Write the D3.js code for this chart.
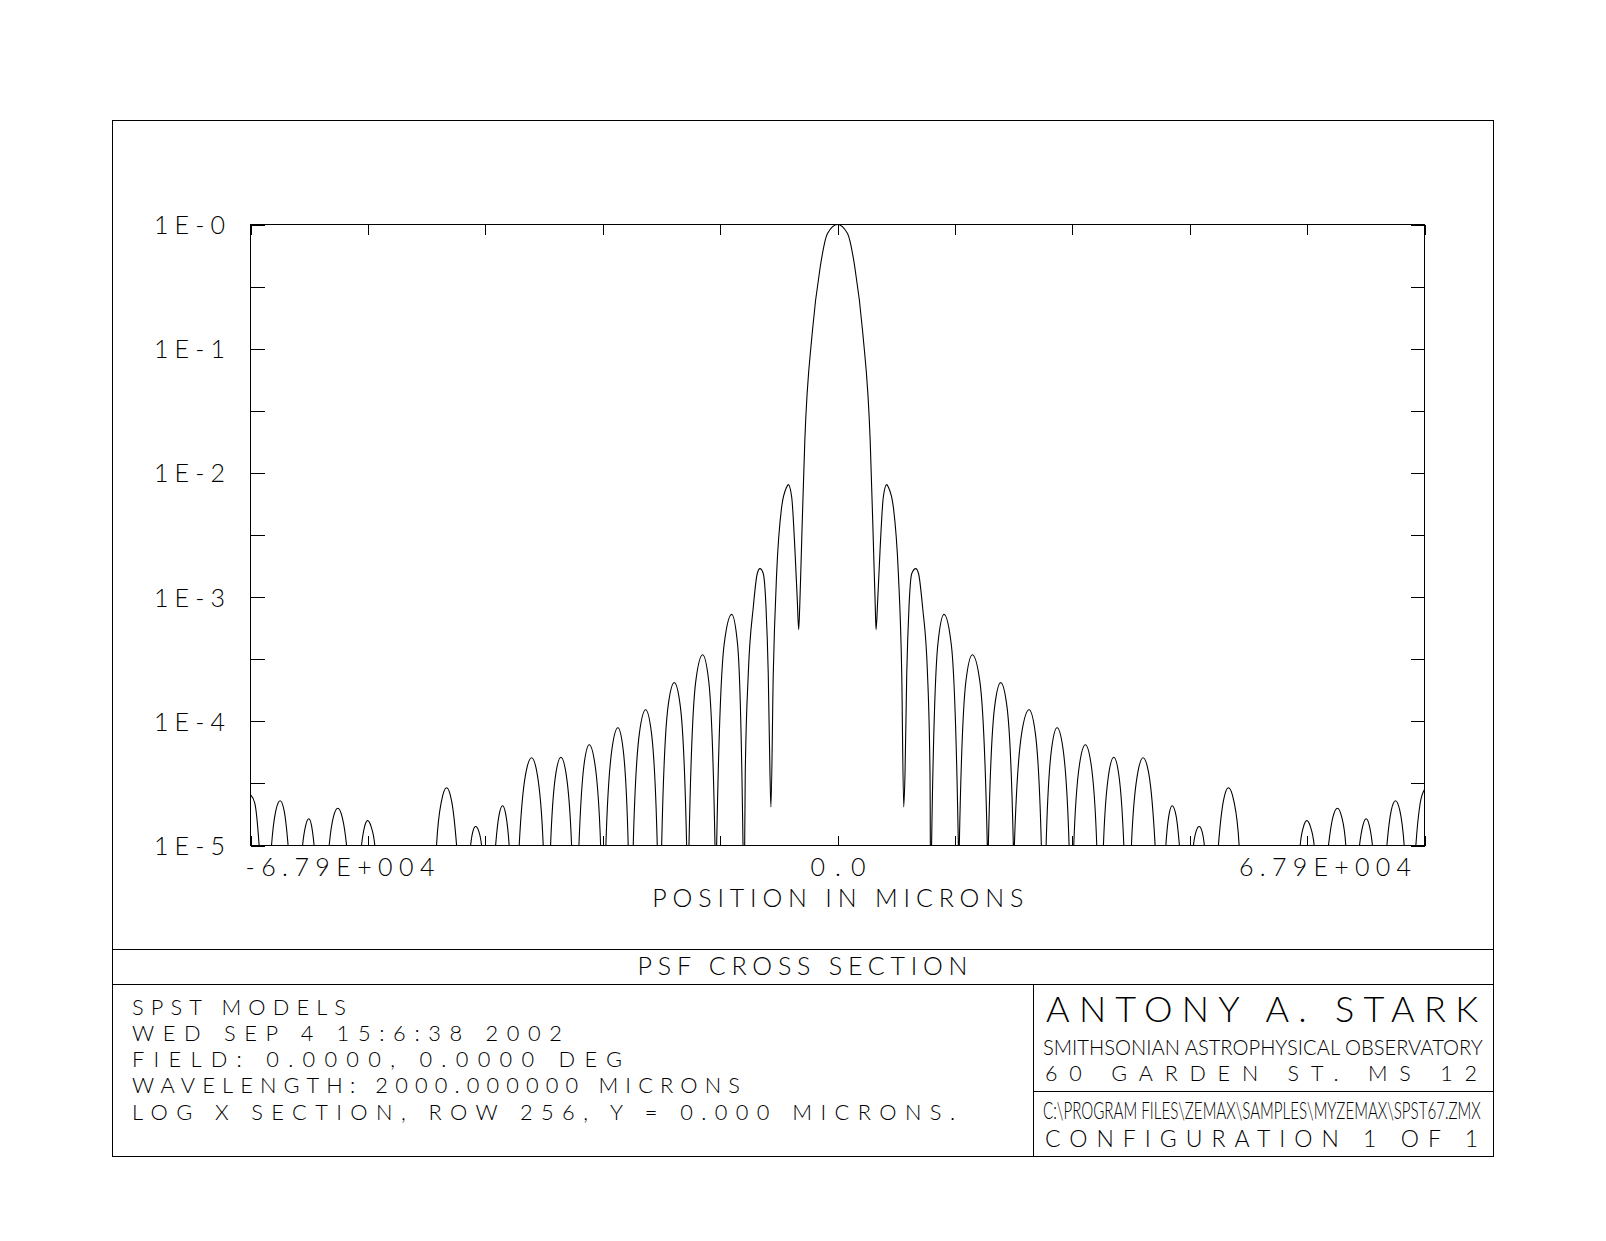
<!DOCTYPE html>
<html>
<head>
<meta charset="UTF-8">
<title>PSF Cross Section</title>
<script src="https://d3js.org/d3.v7.min.js"></script>
<style>
  body { margin: 0; background: #fff; }
  svg text { font-family: Lato, Roboto, sans-serif; font-weight: 300; fill: #000; }
  .frame line, .frame rect { stroke: #000; stroke-width: 1; fill: none; shape-rendering: crispEdges; }
  .tick line { shape-rendering: crispEdges; }
</style>
</head>
<body>
<svg id="chart"></svg>
<script>
// position along the section (microns) and log10 of relative intensity
const posX = [
  -67900, -67400, -66900, -66190,
  -65470, -64970, -64470, -64010, -63550, -62720,
  -61880, -61520, -61150, -60840, -60540, -59670,
  -58800, -58310, -57800, -57300, -56790, -55920,
  -55060, -54710, -54360, -53940, -53520, -53050,
  -46920,
  -46380, -45800, -45220, -44640, -44060, -43250,
  -42440, -42150, -41860, -41520, -41170, -40360,
  -39550, -39150, -38740, -38360, -37980, -37400,
  -36820, -36100, -35380, -34710, -34040, -33610,
  -33190, -32600, -31990, -31380, -30760, -30340,
  -29910, -29310, -28720, -28060, -27400, -27100,
  -26790, -26090, -25400, -24800, -24210, -23920,
  -23630, -22910, -22190, -21520, -20850, -20600,
  -20340, -19610, -18880, -18170, -17450, -17320,
  -17180, -16400, -15600, -14890, -14170, -14080,
  -13980, -13110, -12240, -11560, -10930, -10880,
  -10670, -10320, -9740, -9280, -8970, -8590, -8270, -8010, -7810, -7700,
  -7430, -7040, -6460, -5880, -5690, -5300, -4920, -4650, -4490,
  -4370, -4140, -3780, -2930, -2000, -1160, 0,
  1160, 2000, 2930, 3780, 4140, 4370, 4460,
  4650, 4920, 5300, 5690, 5880, 6460, 7040, 7430, 7660,
  7810, 8010, 8270, 8590, 9050, 9370, 9840, 10410, 10700, 10810,
  10880, 11610, 12320, 13160, 13980, 14040,
  14090, 14850, 15600, 16470, 17330, 17390,
  17450, 18170, 18880, 19610, 20340, 20400,
  20460, 21310, 22160, 22880, 23580, 23860,
  24130, 24760, 25400, 26090, 26790, 27050,
  27330, 28000, 28670, 29330, 29990, 30370,
  30760, 31360, 31960, 32540, 33120, 33560,
  34000, 34680, 35350, 36040, 36740, 37350,
  37980, 38340, 38710, 39150, 39550, 40360,
  41170, 41510, 41830, 42140, 42440, 43250,
  44060, 44640, 45220, 45840, 46460, 46920,
  53050,
  53520, 53900, 54290, 54710, 55140, 55630,
  56790, 57310, 57830, 58320, 58800, 59380,
  60380, 60770, 61150, 61520, 61880, 62720,
  63550, 64050, 64540, 65050, 65550, 66220,
  66900, 67400, 67900
];
const logPsf = [
  -4.59, -4.66, -5, -6,
  -5, -4.72, -4.64, -4.72, -5, -6,
  -5, -4.84, -4.785, -4.84, -5, -6,
  -5, -4.77, -4.70, -4.77, -5, -6,
  -5, -4.85, -4.80, -4.85, -5, -6,
  -6,
  -5, -4.64, -4.535, -4.64, -5, -6,
  -5, -4.88, -4.847, -4.88, -5, -6,
  -5, -4.755, -4.68, -4.755, -5, -6,
  -5, -4.435, -4.294, -4.435, -5, -6,
  -5, -4.43, -4.289, -4.43, -5, -6,
  -5, -4.344, -4.189, -4.344, -5, -6,
  -5, -4.223, -4.052, -4.223, -5, -6,
  -5, -4.093, -3.907, -4.093, -5, -6,
  -5, -3.886, -3.689, -3.886, -5, -6,
  -5, -3.68, -3.464, -3.68, -5, -6,
  -5, -3.38, -3.139, -3.38, -5, -6,
  -4.42, -3.617, -3.08, -2.81, -2.771, -2.81, -3.08, -3.617, -4.42, -4.69,
  -3.617, -2.811, -2.275, -2.114, -2.094, -2.194, -2.624, -3.026, -3.262,
  -3.08, -2.543, -1.738, -0.878, -0.342, -0.0725, 0,
  -0.0725, -0.342, -0.878, -1.738, -2.543, -3.08, -3.262,
  -3.026, -2.624, -2.194, -2.094, -2.114, -2.275, -2.811, -3.617, -4.69,
  -4.42, -3.617, -3.08, -2.81, -2.771, -2.81, -3.08, -3.617, -4.42, -6,
  -5, -3.38, -3.139, -3.38, -5, -6,
  -5, -3.68, -3.464, -3.68, -5, -6,
  -5, -3.886, -3.689, -3.886, -5, -6,
  -5, -4.093, -3.907, -4.093, -5, -6,
  -5, -4.223, -4.052, -4.223, -5, -6,
  -5, -4.344, -4.189, -4.344, -5, -6,
  -5, -4.43, -4.289, -4.43, -5, -6,
  -5, -4.435, -4.294, -4.435, -5, -6,
  -5, -4.755, -4.68, -4.755, -5, -6,
  -5, -4.88, -4.847, -4.88, -5, -6,
  -5, -4.64, -4.535, -4.64, -5, -6,
  -6,
  -5, -4.85, -4.80, -4.85, -5, -6,
  -5, -4.77, -4.70, -4.77, -5, -6,
  -5, -4.84, -4.785, -4.84, -5, -6,
  -5, -4.72, -4.64, -4.72, -5, -6,
  -5, -4.66, -4.549
];

const yTickValues = [-5, -4.5, -4, -3.5, -3, -2.5, -2, -1.5, -1, -0.5, 0];
const xTickValues = [-67900, -54320, -40740, -27160, -13580, 0, 13580, 27160, 40740, 54320, 67900];
const xTickLabels = {"-67900": "-6.79E+004", "0": "0.0", "67900": "6.79E+004"};

const xTitle = "POSITION IN MICRONS";
const plotTitle = "PSF CROSS SECTION";
const infoLines = [
  "SPST MODELS",
  "WED SEP 4 15:6:38 2002",
  "FIELD: 0.0000, 0.0000 DEG",
  "WAVELENGTH: 2000.000000 MICRONS",
  "LOG X SECTION, ROW 256, Y = 0.000 MICRONS."
];
const ownerLines = ["ANTONY A. STARK", "SMITHSONIAN ASTROPHYSICAL OBSERVATORY", "60 GARDEN ST. MS 12"];
const fileLines = ["C:\\PROGRAM FILES\\ZEMAX\\SAMPLES\\MYZEMAX\\SPST67.ZMX", "CONFIGURATION 1 OF 1"];

const W = 1606, H = 1241;
const fr = {x0: 112.5, y0: 120.5, x1: 1493.5, y1: 1156.5};
const pl = {x0: 250.5, y0: 224.5, x1: 1424.5, y1: 845.5};
const fontFam = "Lato, Roboto, sans-serif";

const svg = d3.select('#chart').attr('width', W).attr('height', H);

const x = d3.scaleLinear().domain([-67900, 67900]).range([pl.x0, pl.x1]);
const y = d3.scaleLinear().domain([-5, 0]).range([pl.y1, pl.y0]);

// frame and title block
const frame = svg.append('g').attr('class', 'frame');
frame.append('rect').attr('x', fr.x0).attr('y', fr.y0).attr('width', fr.x1 - fr.x0).attr('height', fr.y1 - fr.y0);
frame.append('line').attr('x1', fr.x0).attr('x2', fr.x1).attr('y1', 949.5).attr('y2', 949.5);
frame.append('line').attr('x1', fr.x0).attr('x2', fr.x1).attr('y1', 984.5).attr('y2', 984.5);
frame.append('line').attr('x1', 1033.5).attr('x2', 1033.5).attr('y1', 984.5).attr('y2', fr.y1);
frame.append('line').attr('x1', 1033.5).attr('x2', fr.x1).attr('y1', 1091.5).attr('y2', 1091.5);
frame.append('rect').attr('x', pl.x0).attr('y', pl.y0).attr('width', pl.x1 - pl.x0).attr('height', pl.y1 - pl.y0);

// axes
function styleAxis(g) {
  g.select('.domain').remove();
  g.attr('font-family', fontFam).attr('font-size', 25);
  g.selectAll('.tick line').attr('stroke', '#000');
}
svg.append('g').attr('transform', `translate(${pl.x0},0)`)
  .call(d3.axisLeft(y).tickValues(yTickValues).tickSize(-14).tickSizeOuter(0).tickPadding(25.5)
    .tickFormat(v => Number.isInteger(v) ? '1E-' + Math.abs(v) : ''))
  .call(styleAxis)
  .selectAll('text').attr('dy', '0.36em')
  .filter(function() { return this.textContent !== ''; })
  .attr('textLength', 71).attr('lengthAdjust', 'spacing');

svg.append('g').attr('transform', `translate(${pl.x1},0)`)
  .call(d3.axisRight(y).tickValues(yTickValues).tickSize(-14).tickSizeOuter(0).tickFormat(''))
  .call(styleAxis);

svg.append('g').attr('transform', `translate(0,${pl.y0})`)
  .call(d3.axisTop(x).tickValues(xTickValues).tickSize(-10).tickSizeOuter(0).tickFormat(''))
  .call(styleAxis);

const xAxis = svg.append('g').attr('transform', `translate(0,${pl.y1})`)
  .call(d3.axisBottom(x).tickValues(xTickValues).tickSize(-10).tickSizeOuter(0).tickPadding(12.5)
    .tickFormat(v => xTickLabels[String(v)] || ''))
  .call(styleAxis);
xAxis.selectAll('text').each(function(v) {
  const t = d3.select(this);
  if (v === -67900) t.attr('text-anchor', 'start').attr('x', -5.5).attr('textLength', 189).attr('lengthAdjust', 'spacing');
  if (v === 67900) t.attr('text-anchor', 'end').attr('x', -14).attr('textLength', 172).attr('lengthAdjust', 'spacing');
  if (v === 0) t.attr('textLength', 55).attr('lengthAdjust', 'spacing');
});

// curve
svg.append('clipPath').attr('id', 'plotClip').append('rect')
  .attr('x', pl.x0).attr('y', pl.y0 - 2).attr('width', pl.x1 - pl.x0).attr('height', pl.y1 - pl.y0 + 2);

const line = d3.line()
  .x((d, i) => x(posX[i]))
  .y((d, i) => y(logPsf[i]))
  .curve(d3.curveMonotoneX);

svg.append('path')
  .datum(posX)
  .attr('clip-path', 'url(#plotClip)')
  .attr('d', line)
  .attr('fill', 'none')
  .attr('stroke', '#000')
  .attr('stroke-width', 1.1);

// texts
function addText(str, px, py, size, len, anchor) {
  svg.append('text')
    .attr('x', px).attr('y', py)
    .attr('font-size', size)
    .attr('text-anchor', anchor || 'start')
    .attr('textLength', len)
    .attr('lengthAdjust', 'spacing')
    .text(str);
}
// condensed lettering: squeeze the glyphs with a horizontal scale
function addNarrowText(str, px, py, size, len) {
  const t = svg.append('text').attr('font-size', size).text(str);
  const nat = t.node().getComputedTextLength();
  t.attr('transform', `translate(${px},${py}) scale(${len / nat},1)`);
}
addText(xTitle, 837.8, 906.7, 25, 371, 'middle');
addText(plotTitle, 802.5, 975, 25, 330, 'middle');

const infoBase = [1014.5, 1040.8, 1067, 1093.3, 1119.6];
const infoLen = [214, 430, 490, 608, 823];
infoLines.forEach((s, i) => addText(s, 132, infoBase[i], 21.8, infoLen[i]));

addText(ownerLines[0], 1046, 1021.5, 36, 432);
addNarrowText(ownerLines[1], 1043, 1055, 22, 440);
addText(ownerLines[2], 1045, 1080.5, 21.5, 432);
addNarrowText(fileLines[0], 1043, 1119, 23, 438);
addText(fileLines[1], 1045, 1147, 23, 433);
</script>
</body>
</html>
